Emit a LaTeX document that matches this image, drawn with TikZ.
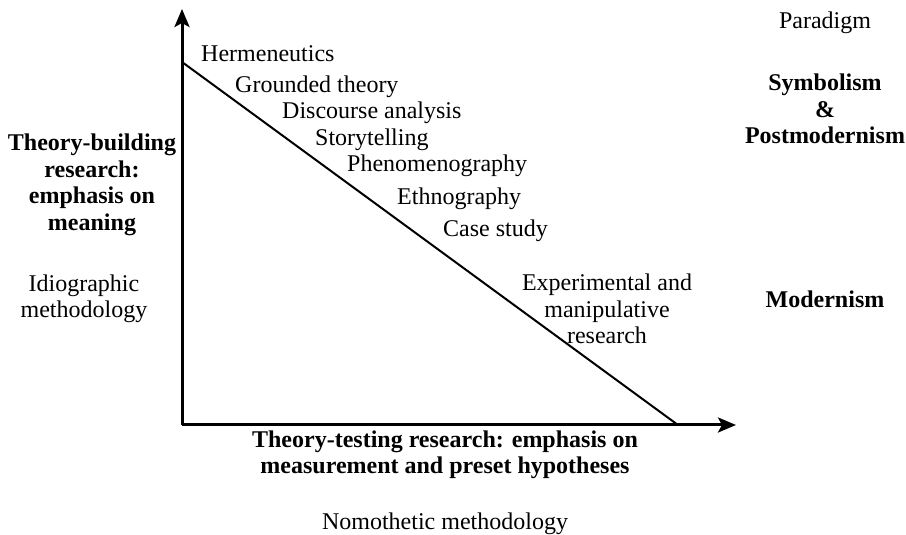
\documentclass[tikz,border=0pt]{standalone}
\usepackage{fontspec}
\setmainfont{Liberation Serif}
\usetikzlibrary{arrows.meta,positioning}
\tikzset{
  method/.style={inner sep=0pt,anchor=west,font=\fontsize{24}{26.5}\selectfont},
  sidelabel/.style={inner sep=0pt,align=center,font=\fontsize{24}{26.5}\selectfont},
  boldlabel/.style={inner sep=0pt,align=center,font=\fontsize{24}{26.5}\selectfont\bfseries},
  axisarrow/.style={-{Stealth[length=18pt,width=15pt,inset=4pt]},line width=3pt},
  diagline/.style={line width=2pt}
}

\begin{document}
\begin{tikzpicture}[x=1pt,y=1pt]
\useasboundingbox (0,0) rectangle (906,535);

\coordinate (origin) at (182,110);
\coordinate (ytop) at (182,526);
\coordinate (xend) at (736,110);
\coordinate (dtop) at (182,473);
\coordinate (dbot) at (678,110);

\draw[axisarrow] (origin) -- (ytop);
\draw[axisarrow] (origin) -- (xend);
\draw[diagline] (dtop) -- (dbot);

% methods along the diagonal
\node[method] (hermen) at (201,481) {Hermeneutics};
\node[method] (grounded) at (235,448) {Grounded theory};
\node[method] (discourse) at (282,422) {Discourse analysis};
\node[method] (story) at (315,395) {Storytelling};
\node[method] (phenom) at (347,369) {Phenomenography};
\node[method] (ethno) at (397,336) {Ethnography};
\node[method] (casestudy) at (443,304) {Case study};
\node[sidelabel] (experim) at (607,226) {Experimental and\\manipulative\\research};

% axis labels
\node[boldlabel] (building) at (92,350) {Theory-building\\research:\\emphasis on\\meaning};
\node[sidelabel] (idio) at (84,236) {Idiographic\\methodology};
\node[boldlabel] (testing) at (445,80) {Theory-testing research: emphasis on\\measurement and preset hypotheses};
\node[sidelabel] (nomo) at (445,11) {Nomothetic methodology};

% paradigm column
\node[sidelabel] (paradigm) at (825,512) {Paradigm};
\node[boldlabel] (symbolism) at (825,426) {Symbolism\\\&\\Postmodernism};
\node[boldlabel] (modernism) at (825,236) {Modernism};
\end{tikzpicture}
\end{document}
